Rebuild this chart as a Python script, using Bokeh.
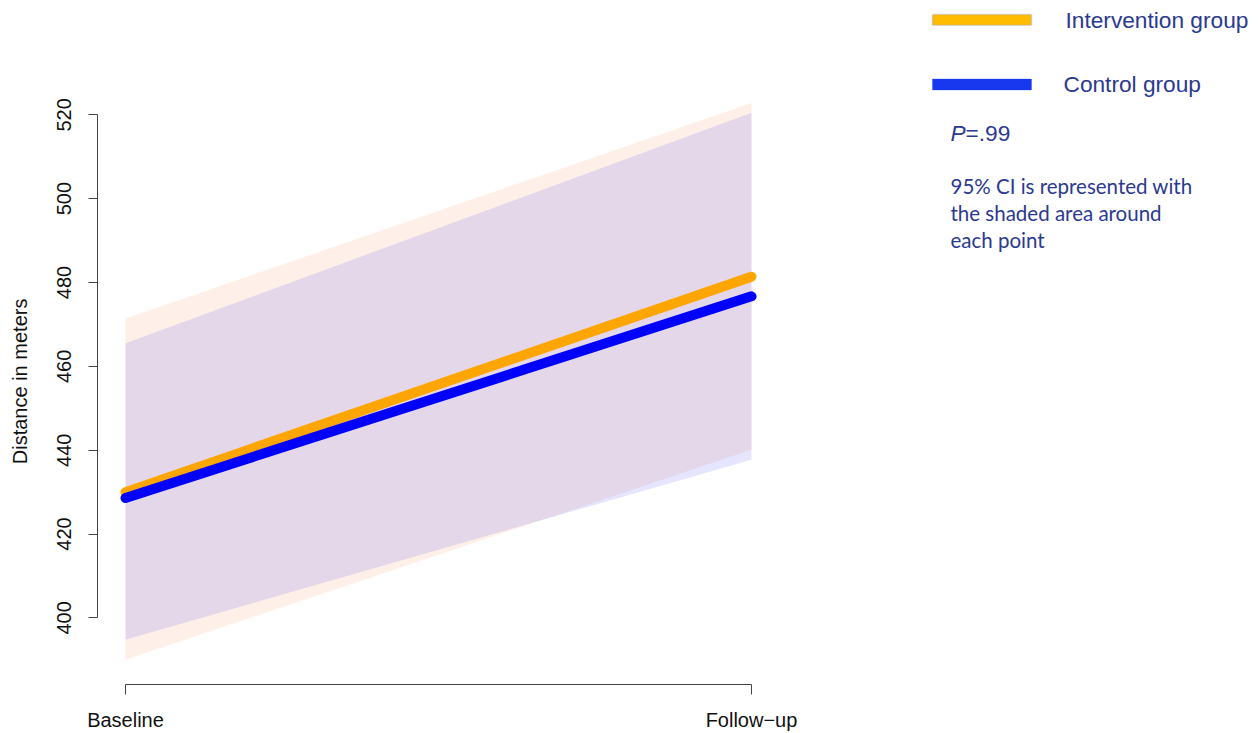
from bokeh.plotting import figure
from bokeh.models import FixedTicker, Label, BoxAnnotation, Range1d
from bokeh.embed import file_html
from bokeh.resources import INLINE

# ---- data ----
categories = ["Baseline", "Follow\u2212up"]
x_pos = [0, 1]
intervention_mean = [430.0, 481.4]
intervention_lower = [390.0, 440.1]
intervention_upper = [471.4, 522.8]
control_mean = [428.6, 476.7]
control_lower = [394.8, 437.7]
control_upper = [465.5, 520.5]
y_ticks = [400, 420, 440, 460, 480, 500, 520]
y_title = "Distance in meters"

# ---- layout (page pixels) ----
W, H = 1259, 733
FRAME_L, FRAME_R = 97, W              # page x
FRAME_T, FRAME_B = 0, 688             # page y
XB, XF = 125, 751                     # page x of baseline / follow-up
Y400, Y520 = 621, 115                 # page y of 400 / 520
kx = (XF - XB) / 1.0
ky = (Y400 - Y520) / 120.0

x_start = (FRAME_L - XB) / kx
x_end = (FRAME_R - XB) / kx
y_start = 400 - (FRAME_B - Y400) / ky
y_end = 400 + (Y400 - FRAME_T) / ky

def X(px):
    return (px - XB) / kx

def Y(py):
    return 400 + (Y400 - py) / ky

p = figure(width=W, height=H, output_backend="svg", toolbar_location=None,
           x_range=Range1d(x_start, x_end), y_range=Range1d(y_start, y_end),
           min_border_left=FRAME_L, min_border_right=0,
           min_border_top=0, min_border_bottom=H - FRAME_B)
p.outline_line_color = None
p.xgrid.visible = False
p.ygrid.visible = False
p.background_fill_color = "white"
p.border_fill_color = "white"

# CI bands
p.varea(x=x_pos, y1=intervention_lower, y2=intervention_upper,
        fill_color=(245, 110, 30), fill_alpha=0.1)
p.varea(x=x_pos, y1=control_lower, y2=control_upper,
        fill_color=(0, 0, 255), fill_alpha=0.1)

# mean lines
p.line(x_pos, intervention_mean, line_color="#FFA500", line_width=10, line_cap="round")
p.line(x_pos, control_mean, line_color="#0000FF", line_width=10, line_cap="round")

AX_COLOR = "#444444"
TICK_FONT = "Liberation Sans"

# y axis
ya = p.yaxis[0]
ya.ticker = FixedTicker(ticks=y_ticks)
ya.bounds = (400, 520)
ya.axis_line_color = AX_COLOR
ya.major_tick_line_color = AX_COLOR
ya.major_tick_out = 9
ya.major_tick_in = 0
ya.minor_tick_line_color = None
ya.major_label_orientation = "vertical"
ya.major_label_text_font = TICK_FONT
ya.major_label_text_font_size = "20px"
ya.major_label_text_color = "#111111"
ya.major_label_standoff = 17
# R centres the title on the whole plotting region, which sits lower than
# this frame's centre: trailing no-break spaces shift the visible text down.
ya.axis_label = y_title + "\u00a0" * 14
ya.axis_label_text_font = TICK_FONT
ya.axis_label_text_font_size = "20px"
ya.axis_label_text_font_style = "normal"
ya.axis_label_text_color = "#111111"
ya.axis_label_standoff = 24

# x axis
xa = p.xaxis[0]
xa.ticker = FixedTicker(ticks=x_pos)
xa.major_label_overrides = {x: c for x, c in zip(x_pos, categories)}
xa.bounds = (0, 1)
xa.axis_line_color = AX_COLOR
xa.major_tick_line_color = AX_COLOR
xa.major_tick_out = 10
xa.major_tick_in = 0
xa.minor_tick_line_color = None
xa.major_label_text_font = TICK_FONT
xa.major_label_text_font_size = "20px"
xa.major_label_text_color = "#111111"
xa.major_label_standoff = 14

# ---- legend / notes ----
TXT = "#2B3990"
p.add_layout(BoxAnnotation(left=X(932), right=X(1031), top=Y(14), bottom=Y(25),
                           fill_color="#FFBC00", fill_alpha=1.0,
                           line_color="#8A98D4", line_width=1.5))
p.add_layout(BoxAnnotation(left=X(932), right=X(1031), top=Y(79), bottom=Y(90),
                           fill_color="#1838F0", fill_alpha=1.0,
                           line_color="#1838F0", line_width=1))

def lab(x, y, text, font="Liberation Sans", size="22.7px", style="normal"):
    p.add_layout(Label(x=X(x), y=Y(y), text=text, text_font=font,
                       text_font_size=size, text_font_style=style,
                       text_color=TXT, text_baseline="middle", text_align="left"))

lab(1065, 20, "Intervention group")
lab(1063, 84, "Control group")
lab(950, 133, "P", style="italic")
lab(965, 133, "=.99")
lab(950, 187, "95% CI is represented with", font="Lato", size="20.5px")
lab(950, 214, "the shaded area around", font="Lato", size="20.5px")
lab(950, 241, "each point", font="Lato", size="20.5px")

open("out.html", "w").write(file_html(p, INLINE))
